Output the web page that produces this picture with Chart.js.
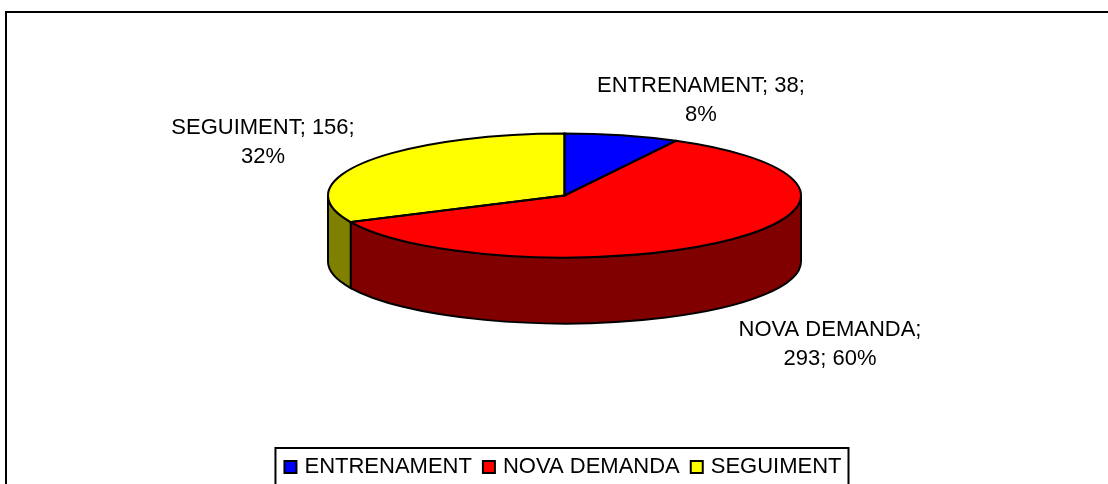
<!DOCTYPE html>
<html>
<head>
<meta charset="utf-8">
<title>Pie</title>
<style>
  html, body { margin: 0; padding: 0; background: #fff; overflow: hidden; }
  canvas { display: block; }
</style>
<script src="https://cdn.jsdelivr.net/npm/chart.js@4/dist/chart.umd.min.js"></script>
</head>
<body>
<canvas id="pie" width="1108" height="484"></canvas>
<script>
const categories = ['ENTRENAMENT', 'NOVA DEMANDA', 'SEGUIMENT'];
const values = [38, 293, 156];
const percents = [8, 60, 32];

const topColors = ['#0000ff', '#ff0000', '#ffff00'];
const sideColors = ['#000080', '#800000', '#808000'];

// wrapped the way the labels wrap in the picture
const labelLines = [
    [categories[0] + '; ' + values[0] + ';', percents[0] + '%'],
    [categories[1] + ';', values[1] + '; ' + percents[1] + '%'],
    [categories[2] + '; ' + values[2] + ';', percents[2] + '%']
];
const labelSpots = [[701, 84], [830, 328], [263, 126]];

const FONT = '22px "Liberation Sans", Arial, sans-serif';
const CX = 564.5, CY = 195.5, RX = 236.5, RY = 62, DEPTH = 66;

function slicePath(ctx, arc) {
    ctx.beginPath();
    ctx.moveTo(CX, CY);
    ctx.ellipse(CX, CY, RX, RY, 0, arc.startAngle, arc.endAngle);
    ctx.closePath();
}

const tiltedPie = {
    id: 'tiltedPie',
    beforeDatasetsDraw(chart) {
        const ctx = chart.ctx;
        const arcs = chart.getDatasetMeta(0).data;
        // wall of the disc, only the part that faces the viewer
        arcs.forEach((arc, i) => {
            const a = Math.max(arc.startAngle, 0);
            const b = Math.min(arc.endAngle, Math.PI);
            if (b <= a) return;
            ctx.beginPath();
            ctx.ellipse(CX, CY, RX, RY, 0, a, b);
            ctx.ellipse(CX, CY + DEPTH, RX, RY, 0, b, a, true);
            ctx.closePath();
            ctx.fillStyle = sideColors[i];
            ctx.fill();
            ctx.lineWidth = 2;
            ctx.strokeStyle = '#000';
            ctx.stroke();
        });
        // squash the flat pie into the ellipse
        const first = arcs[0];
        ctx.save();
        ctx.translate(CX, CY);
        ctx.scale(RX / first.outerRadius, RY / first.outerRadius);
        ctx.translate(-first.x, -first.y);
    },
    afterDatasetsDraw(chart) {
        const ctx = chart.ctx;
        ctx.restore();
        chart.getDatasetMeta(0).data.forEach(arc => {
            slicePath(ctx, arc);
            ctx.lineWidth = 2;
            ctx.strokeStyle = '#000';
            ctx.stroke();
        });
    },
    afterDraw(chart) {
        const ctx = chart.ctx;
        ctx.save();
        ctx.fillStyle = '#000';
        ctx.font = FONT;
        ctx.textAlign = 'center';
        ctx.textBaseline = 'alphabetic';
        labelLines.forEach((lines, i) => {
            lines.forEach((t, n) => {
                ctx.fillText(t, labelSpots[i][0], labelSpots[i][1] + n * 29 + 8);
            });
        });
        // frame of the chart, cut off on the right and at the bottom
        ctx.strokeStyle = '#000';
        ctx.lineWidth = 2;
        ctx.beginPath();
        ctx.moveTo(6, 484);
        ctx.lineTo(6, 12);
        ctx.lineTo(1108, 12);
        ctx.stroke();
        // legend box and the wider markers, the library keeps its text gap tied to the font size
        const boxes = chart.legend.legendHitBoxes;
        ctx.beginPath();
        ctx.moveTo(boxes[0].left - 9, 484);
        ctx.lineTo(boxes[0].left - 9, 448);
        ctx.lineTo(848.5, 448);
        ctx.lineTo(848.5, 484);
        ctx.stroke();
        boxes.forEach((box, i) => {
            const y = box.top + box.height / 2 - 6;
            ctx.fillStyle = topColors[i];
            ctx.fillRect(box.left, y, 12, 12);
            ctx.strokeRect(box.left, y, 12, 12);
        });
        ctx.restore();
    }
};

new Chart(document.getElementById('pie'), {
    type: 'pie',
    data: {
        labels: categories,
        datasets: [{
            data: values,
            backgroundColor: topColors,
            borderWidth: 0
        }]
    },
    plugins: [tiltedPie],
    options: {
        responsive: false,
        animation: false,
        layout: { padding: { left: 18, bottom: -4 } },
        plugins: {
            tooltip: { enabled: false },
            legend: {
                position: 'bottom',
                labels: {
                    color: '#000',
                    font: { family: '"Liberation Sans", Arial, sans-serif', size: 22 },
                    boxWidth: 9,
                    boxHeight: 9,
                    padding: 11,
                    generateLabels: chart => categories.map((c, i) => ({
                        text: c,
                        fillStyle: topColors[i],
                        strokeStyle: '#000',
                        lineWidth: 0,
                        index: i
                    }))
                }
            }
        }
    }
});
</script>
</body>
</html>
